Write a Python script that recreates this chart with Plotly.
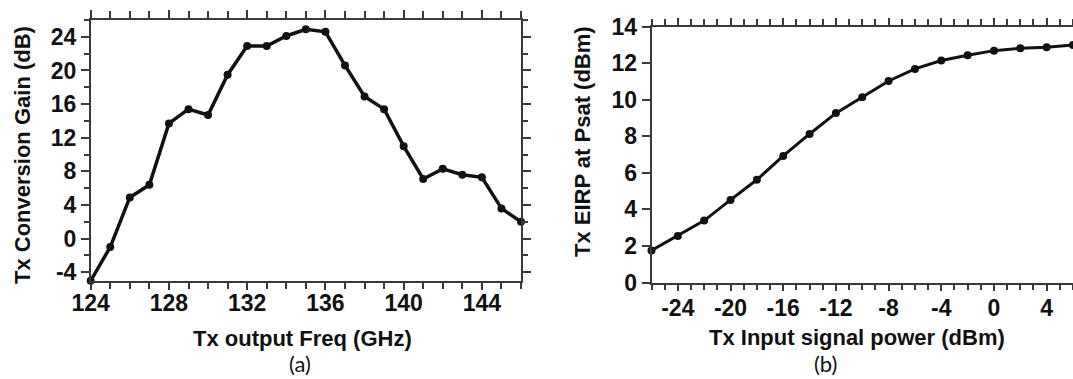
import plotly.graph_objects as go

# (a) Tx conversion gain versus output frequency
freq_ghz = [124, 125, 126, 127, 128, 129, 130, 131, 132, 133, 134, 135,
            136, 137, 138, 139, 140, 141, 142, 143, 144, 145, 146]
conv_gain_db = [-5.0, -1.0, 4.9, 6.4, 13.7, 15.4, 14.7, 19.5, 22.9, 22.9, 24.1, 24.9,
                24.6, 20.6, 16.9, 15.4, 11.0, 7.1, 8.3, 7.6, 7.3, 3.6, 2.0]

# (b) Tx EIRP at Psat versus input signal power
pin_dbm = [-26, -24, -22, -20, -18, -16, -14, -12, -10, -8, -6, -4, -2, 0, 2, 4, 6]
eirp_dbm = [1.75, 2.55, 3.39, 4.52, 5.62, 6.93, 8.13, 9.27, 10.14, 11.03,
            11.69, 12.15, 12.44, 12.69, 12.82, 12.88, 13.0]

# tick values and their printed labels (plain hyphen minus)
freq_ticks = [124, 128, 132, 136, 140, 144]
freq_labels = ["124", "128", "132", "136", "140", "144"]
gain_ticks = [-4, 0, 4, 8, 12, 16, 20, 24]
gain_labels = ["-4", "0", "4", "8", "12", "16", "20", "24"]
pin_ticks = [-24, -20, -16, -12, -8, -4, 0, 4]
pin_labels = ["-24", "-20", "-16", "-12", "-8", "-4", "0", "4"]
eirp_ticks = [0, 2, 4, 6, 8, 10, 12, 14]
eirp_labels = ["0", "2", "4", "6", "8", "10", "12", "14"]

W, H = 1073, 379
FAMILY = "Liberation Sans, Arial, sans-serif"
TICKFONT = dict(family=FAMILY, size=23, color="#111111", weight="bold")
TITLEFONT = dict(family=FAMILY, size=22, color="#111111", weight="bold")
CAPFONT = dict(family="Lato, Open Sans, sans-serif", size=22, color="#111111")
AX = "#3a3a3a"


def px_x(p):
    return p / W


def px_y(p):
    return 1 - p / H


fig = go.Figure()

fig.add_trace(go.Scatter(
    x=freq_ghz, y=conv_gain_db, mode="lines+markers",
    line=dict(color="#111111", width=3.5),
    marker=dict(color="#111111", size=8, symbol="circle"),
    cliponaxis=False, xaxis="x", yaxis="y", showlegend=False,
))
fig.add_trace(go.Scatter(
    x=pin_dbm, y=eirp_dbm, mode="lines+markers",
    line=dict(color="#111111", width=3),
    marker=dict(color="#111111", size=8, symbol="circle"),
    cliponaxis=False, xaxis="x2", yaxis="y2", showlegend=False,
))

common = dict(
    showline=True, linecolor=AX, linewidth=1.5, mirror="ticks",
    ticks="outside", tickcolor=AX, tickwidth=1.5, showgrid=False, zeroline=False,
    tickfont=TICKFONT, automargin=False, tickmode="array",
)

fig.update_layout(
    width=W, height=H, autosize=False,
    margin=dict(l=0, r=0, t=0, b=0, pad=0),
    paper_bgcolor="white", plot_bgcolor="white",
    xaxis=dict(domain=[px_x(90.7), px_x(521)], range=[124, 146],
               tickvals=freq_ticks, ticktext=freq_labels, ticklen=8, anchor="y",
               ticklabelstandoff=-7,
               minor=dict(tickmode="linear", tick0=124, dtick=1, ticklen=7,
                          ticks="outside", tickcolor=AX, tickwidth=1.5),
               **common),
    yaxis=dict(domain=[px_y(280.7), px_y(20)], range=[-5, 26],
               tickvals=gain_ticks, ticktext=gain_labels, ticklen=8, anchor="x",
               minor=dict(tickmode="linear", tick0=0, dtick=2, ticklen=5,
                          ticks="outside", tickcolor=AX, tickwidth=1.5),
               **common),
    xaxis2=dict(domain=[px_x(651.5), 1.0], range=[-26, 6],
                tickvals=pin_ticks, ticktext=pin_labels, ticklen=7, anchor="y2",
                ticklabelstandoff=-3,
                minor=dict(tickmode="linear", tick0=0, dtick=1, ticklen=6,
                           ticks="outside", tickcolor=AX, tickwidth=1.5),
                **common),
    yaxis2=dict(domain=[px_y(282.5), px_y(26.7)], range=[0, 14],
                tickvals=eirp_ticks, ticktext=eirp_labels, ticklen=8, anchor="x2",
                **common),
)

annotations = [
    dict(text="Tx Conversion Gain (dB)", x=px_x(22), y=px_y(155), textangle=-90, font=TITLEFONT),
    dict(text="Tx output Freq (GHz)", x=px_x(302), y=px_y(338), font=TITLEFONT),
    dict(text="Tx EIRP at Psat (dBm)", x=px_x(583), y=px_y(142), textangle=-90, font=TITLEFONT),
    dict(text="Tx Input signal power (dBm)", x=px_x(857), y=px_y(337), font=TITLEFONT),
    dict(text="(a)", x=px_x(300), y=px_y(363), font=CAPFONT),
    dict(text="(b)", x=px_x(825), y=px_y(363), font=CAPFONT),
]
for a in annotations:
    fig.add_annotation(xref="paper", yref="paper", xanchor="center", yanchor="middle",
                       showarrow=False, **a)

fig.write_html("out.html")
